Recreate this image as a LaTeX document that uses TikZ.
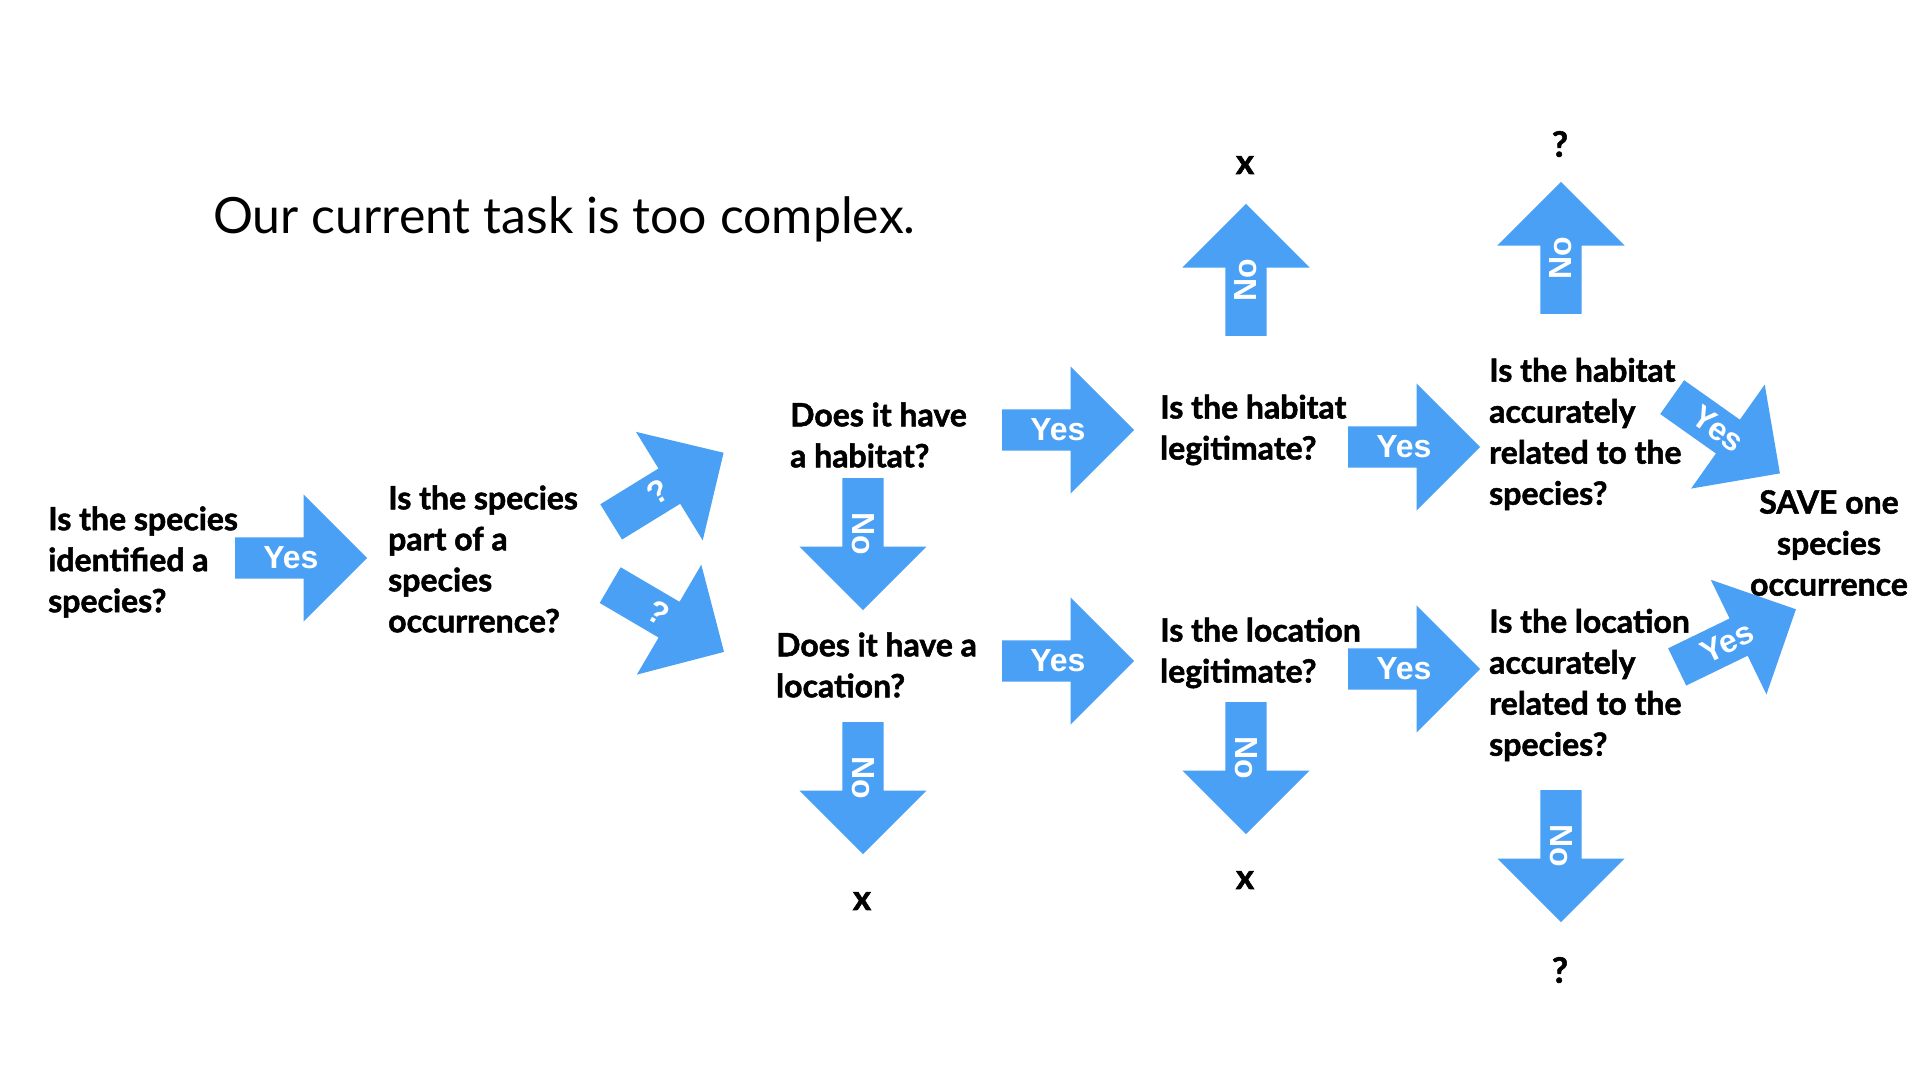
\documentclass[tikz,border=0pt]{standalone}
\usepackage{fontspec}
\setmainfont{Lato}[BoldFeatures={FakeBold=1.6}]
\newfontfamily\arrfont{Liberation Sans}
\usetikzlibrary{shapes.arrows}
\definecolor{arrblue}{RGB}{73,160,245}

\begin{document}
\begin{tikzpicture}[x=1pt,y=-1pt,
  q/.style={font=\fontsize{32}{41}\selectfont\bfseries, align=left, anchor=west, inner sep=0pt},
  ar/.style={single arrow, anchor=tail, fill=arrblue, minimum height=132pt, text height=31pt, text depth=10pt, inner sep=0pt, single arrow head extend=43pt, text=white, font=\arrfont\fontsize{32}{32}\selectfont\bfseries},
  res/.style={font=\fontsize{35}{35}\selectfont\bfseries, inner sep=0pt}]
	        \fill[white] (0,0) rectangle (1920,1080);
	        \useasboundingbox (0,0) rectangle (1920,1080);
	        \node[anchor=west, inner sep=0pt, font=\fontsize{50}{50}\selectfont] (ttl) at (213,219) {Our current task is too complex.};
	        % questions
	        \node[q] (q1) at (48,562) {Is the species\\identified a\\species?};
	        \node[q] (q2) at (388,559) {Is the species\\part of a\\species\\occurrence?};
	        \node[q] (q3) at (790,435) {Does it have\\a habitat?};
	        \node[q] (q4) at (776,665) {Does it have a\\location?};
	        \node[q] (q5) at (1160,430) {Is the habitat\\legitimate?};
	        \node[q] (q6) at (1160,653) {Is the location\\legitimate?};
	        \node[q] (q7) at (1489,434) {Is the habitat\\accurately\\related to the\\species?};
	        \node[q] (q8) at (1489,685) {Is the location\\accurately\\related to the\\species?};
	        \node[q, anchor=center, align=center] (save) at (1829,543) {SAVE one\\species\\occurrence};
	        % arrows, placed by their tails
	        \node[ar] (y1) at (235,558) {Yes};
	        \node[ar, rotate=31.6] (u1) at (611,522) {?};
	        \node[ar, rotate=-30.4] (u2) at (610,585) {?};
	        \node[ar] (y2) at (1002,430) {Yes};
	        \node[ar] (y3) at (1002,661) {Yes};
	        \node[ar] (y4) at (1348,447) {Yes};
	        \node[ar] (y5) at (1348,669) {Yes};
	        \node[ar, rotate=-35.3] (y6) at (1672,397) {Yes};
	        \node[ar, rotate=25.9] (y7) at (1677,667) {Yes};
	        \node[ar, rotate=-90] (n1) at (863,478) {No};
	        \node[ar, rotate=-90] (n2) at (863,722) {No};
	        \node[ar, rotate=-90] (n3) at (1246,702) {No};
	        \node[ar, rotate=-90] (n4) at (1561,790) {No};
	        \node[ar, rotate=90] (n5) at (1246,336) {No};
	        \node[ar, rotate=90] (n6) at (1561,314) {No};
	        % outcomes
	        \node[res] (r1) at (1245,165) {x};
	        \node[res] (r2) at (862,901) {x};
	        \node[res] (r3) at (1245,880) {x};
	        \node[res] (r4) at (1560,144) {?};
	        \node[res] (r5) at (1560,970) {?};
\end{tikzpicture}
\end{document}
